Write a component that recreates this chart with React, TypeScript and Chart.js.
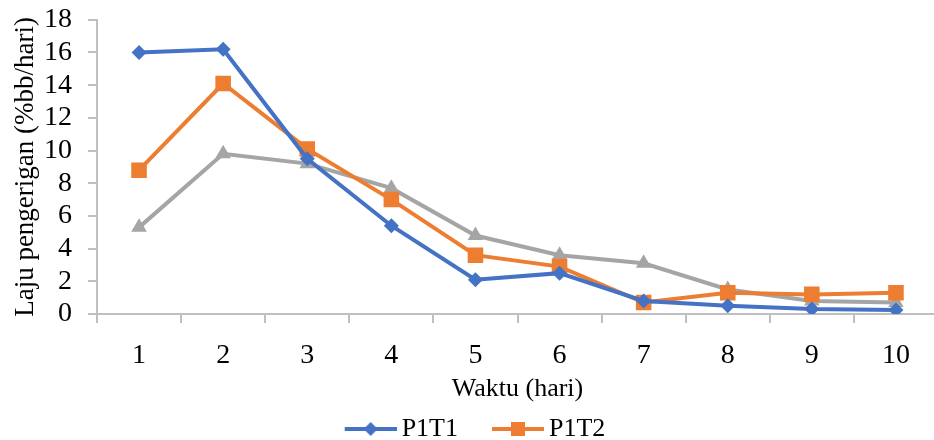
import React, { useEffect, useRef } from "react";
import { Chart, registerables } from "chart.js";

Chart.register(...registerables);

const categories = ["1", "2", "3", "4", "5", "6", "7", "8", "9", "10"];
const p1t1 = [16.0, 16.2, 9.5, 5.4, 2.1, 2.5, 0.8, 0.5, 0.3, 0.25];
const p1t2 = [8.8, 14.1, 10.1, 7.0, 3.6, 2.9, 0.7, 1.3, 1.2, 1.3];
const p1t3 = [5.3, 9.8, 9.2, 7.7, 4.8, 3.6, 3.1, 1.5, 0.8, 0.7];
const yTicks = { min: 0, max: 18, step: 2 };

const BLUE = "#4472C4";
const ORANGE = "#ED7D31";
const GRAY = "#A5A5A5";
const AXIS = "#BFBFBF";
const FONT = "'Liberation Serif', 'Times New Roman', serif";

// legend icon: transparent left part, then line with marker (sits right before the text)
function legendIcon(color: string, shape: "diamond" | "square") {
  const c = document.createElement("canvas");
  c.width = 88;
  c.height = 18;
  const ctx = c.getContext("2d")!;
  ctx.strokeStyle = color;
  ctx.lineWidth = 4;
  ctx.beginPath();
  ctx.moveTo(36, 9);
  ctx.lineTo(88, 9);
  ctx.stroke();
  ctx.fillStyle = color;
  const cx = 62;
  if (shape === "diamond") {
    ctx.beginPath();
    ctx.moveTo(cx, 2);
    ctx.lineTo(cx + 7, 9);
    ctx.lineTo(cx, 16);
    ctx.lineTo(cx - 7, 9);
    ctx.closePath();
    ctx.fill();
  } else {
    ctx.fillRect(cx - 7, 2, 14, 14);
  }
  return c;
}

const legendShift = {
  id: "legendShift",
  afterLayout(chart: any) {
    if (chart.legend) {
      chart.legend.left -= 14;
      chart.legend.right -= 14;
    }
  },
};

export default function App() {
  const ref = useRef<HTMLCanvasElement>(null);
  useEffect(() => {
    if (!ref.current) return;
    const icons: Record<string, HTMLCanvasElement> = {
      P1T1: legendIcon(BLUE, "diamond"),
      P1T2: legendIcon(ORANGE, "square"),
    };
    const chart = new Chart(ref.current, {
      type: "line",
      data: {
        labels: categories,
        datasets: [
          {
            label: "P1T1",
            data: p1t1,
            borderColor: BLUE,
            backgroundColor: BLUE,
            borderWidth: 4,
            pointStyle: "rectRot",
            pointRadius: 7.5,
            pointBorderWidth: 0,
            tension: 0,
          },
          {
            label: "P1T2",
            data: p1t2,
            borderColor: ORANGE,
            backgroundColor: ORANGE,
            borderWidth: 4,
            pointStyle: "rect",
            pointRadius: 11,
            pointBorderWidth: 0,
            tension: 0,
          },
          {
            label: "P1T3",
            data: p1t3,
            borderColor: GRAY,
            backgroundColor: GRAY,
            borderWidth: 4,
            pointStyle: "triangle",
            pointRadius: 9,
            pointBorderWidth: 0,
            tension: 0,
          },
        ],
      },
      plugins: [legendShift],
      options: {
        animation: false,
        responsive: false,
        maintainAspectRatio: false,
        layout: { padding: { top: 3, right: 12, left: 12, bottom: 0 } },
        plugins: {
          tooltip: { enabled: false },
          legend: {
            position: "bottom",
            labels: {
              usePointStyle: true,
              pointStyleWidth: 72,
              padding: 6,
              color: "#000",
              font: { family: FONT, size: 26 },
              filter: (item: any) => item.text !== "P1T3",
              generateLabels: (chart: any) => {
                const items = Chart.defaults.plugins.legend.labels.generateLabels(chart);
                return items.map((it: any) => ({ ...it, pointStyle: icons[it.text] || it.pointStyle }));
              },
            },
          },
        },
        scales: {
          x: {
            offset: true,
            afterFit: (scale: any) => {
              scale.height = 96;
            },
            grid: {
              display: true,
              offset: true,
              drawOnChartArea: false,
              drawTicks: true,
              tickLength: 9,
              color: AXIS,
              lineWidth: 2,
            },
            border: { display: true, color: AXIS, width: 2 },
            ticks: { color: "#000", font: { family: FONT, size: 28 }, padding: 16, maxRotation: 0, autoSkip: false },
            title: {
              display: true,
              text: "Waktu (hari)",
              color: "#000",
              font: { family: FONT, size: 26 },
              padding: { top: 0, bottom: 5 },
            },
          },
          y: {
            min: yTicks.min,
            max: yTicks.max,
            afterFit: (scale: any) => {
              scale.width = 85;
            },
            grid: {
              display: true,
              drawOnChartArea: false,
              drawTicks: true,
              tickLength: 9,
              color: AXIS,
              lineWidth: 2,
            },
            border: { display: true, color: AXIS, width: 2 },
            ticks: {
              stepSize: yTicks.step,
              autoSkip: false,
              color: "#000",
              font: { family: FONT, size: 28 },
              padding: 16,
            },
            title: {
              display: true,
              text: "Laju pengerigan (%bb/hari)",
              color: "#000",
              font: { family: FONT, size: 27, lineHeight: 1 },
              padding: { top: 0, bottom: 4 },
            },
          },
        },
      },
    });
    return () => chart.destroy();
  }, []);
  return (
    <div style={{ position: "absolute", left: 0, top: -13, width: 950, height: 465, background: "#fff" }}>
      <canvas ref={ref} width={950} height={465} style={{ width: 950, height: 465, display: "block" }} />
    </div>
  );
}
